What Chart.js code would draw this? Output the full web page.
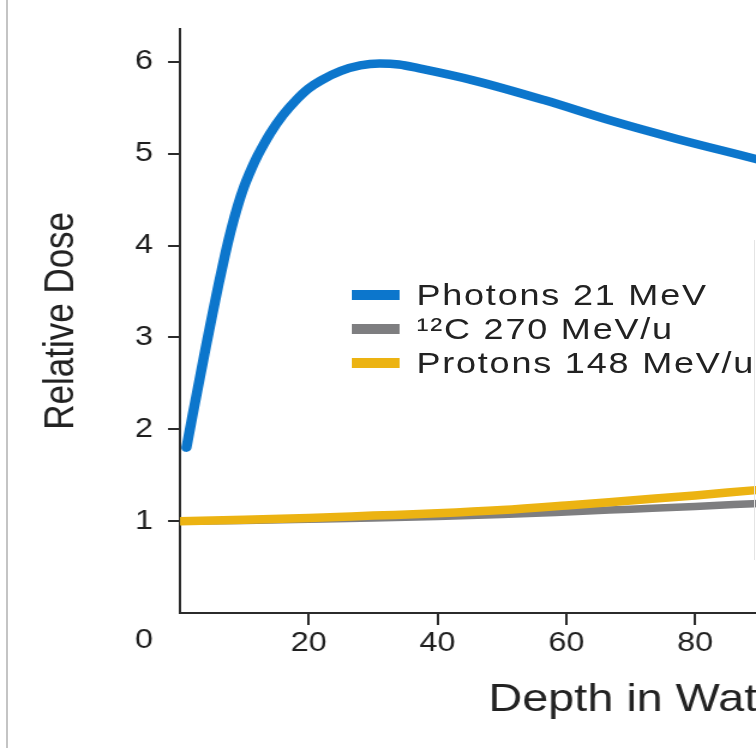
<!DOCTYPE html>
<html>
<head>
<meta charset="utf-8">
<title>Relative Dose vs Depth in Water</title>
<script src="https://cdn.jsdelivr.net/npm/chart.js@4.4.1/dist/chart.umd.min.js"></script>
<style>
    html, body { margin: 0; padding: 0; background: #ffffff; overflow: hidden; width: 756px; height: 748px; }
    /* the original figure is stretched sideways, so the whole drawing is too */
    #stretch { position: absolute; left: 0; top: 0; width: 1033px; height: 748px; transform: scaleX(1.2); transform-origin: 0 0; }
    #edgeLeft { position: absolute; left: 6px; top: 0; width: 2px; height: 748px; background: #c4c4c4; }
    #edgeRight { position: absolute; left: 754px; top: 240px; width: 1px; height: 320px; background: #e4e4e4; }
    #legend { position: absolute; left: 293px; top: 278px; font-family: "Liberation Sans", Arial, sans-serif; font-size: 30px; letter-spacing: 1.5px; color: #222222; }
    .row { display: flex; align-items: center; height: 34px; white-space: nowrap; }
    .swatch { width: 40px; height: 10px; margin-right: 14px; }
</style>
</head>
<body>
<div id="edgeLeft"></div>
<div id="stretch">
    <canvas id="doseChart" width="1033" height="748"></canvas>
    <div id="legend"></div>
</div>
<div id="edgeRight"></div>

<script>
// Series (depth in water, relative dose)
const photonDepth = [1, 2, 3, 4, 5, 6, 7, 8, 9, 10, 11, 12, 13, 14, 16, 18, 20, 22, 25, 28, 31, 34, 37, 46, 56.7, 66.9, 77.2, 89, 95];
const photonDose = [1.8, 2.17, 2.53, 2.89, 3.24, 3.58, 3.9, 4.19, 4.44, 4.65, 4.82, 4.97, 5.1, 5.22, 5.42, 5.58, 5.71, 5.8, 5.9, 5.96, 5.98, 5.97, 5.93, 5.79, 5.58, 5.36, 5.16, 4.95, 4.84];

const carbonDepth = [0, 10, 20, 30, 40, 50, 60, 70, 80, 89, 95];
const carbonDose = [1.0, 1.008, 1.02, 1.033, 1.05, 1.072, 1.1, 1.13, 1.16, 1.19, 1.21];

const protonDepth = [0, 10, 20, 30, 40, 50, 60, 70, 80, 89, 95];
const protonDose = [1.0, 1.015, 1.035, 1.06, 1.085, 1.12, 1.17, 1.225, 1.28, 1.335, 1.37];

// Legend entries, in the order shown on the figure
const seriesLabels = ['Photons 21 MeV', '\u00B9\u00B2C 270 MeV/u', 'Protons 148 MeV/u'];
const seriesColors = ['#0c76cc', '#7e7e80', '#ecb312'];

// Tick labels shown on each axis (the shared "0" sits in the corner)
const xTickValues = [20, 40, 60, 80, 100, 120, 140, 160];
const yTickValues = [1, 2, 3, 4, 5, 6];
const originText = '0';

const xTitle = 'Depth in Water (mm)';
const yTitle = 'Relative Dose';

// Check whether a local font is really there by comparing text widths
function hasFont(name)
{
    const c = document.createElement('canvas').getContext('2d');
    c.font = '40px monospace';
    const base = c.measureText('Relative Dose 123').width;
    c.font = `40px "${name}", monospace`;
    return c.measureText('Relative Dose 123').width !== base;
}

const narrow = hasFont('Liberation Sans Narrow');
const yTitleFamily = narrow ? '"Liberation Sans Narrow", "Liberation Sans", sans-serif' : '"Liberation Sans", Arial, sans-serif';
const yTitleSize = narrow ? 42 : 35;
const tickFamily = '"Liberation Sans", Arial, sans-serif';
const tickSize = 27;
const tickColor = '#1f1f1f';

// Draws the single "0" below the y labels, level with the x labels
const originLabel = {
    id: 'originLabel',
    afterDraw(chart)
    {
        const { ctx, scales: { x, y } } = chart;
        ctx.save();
        ctx.font = `${tickSize}px ${tickFamily}`;
        ctx.fillStyle = tickColor;
        ctx.textAlign = 'right';
        ctx.textBaseline = 'top';
        ctx.fillText(originText, y.right - 10 - 12.5, x.top + 12 + 2);
        ctx.restore();
    }
};

// Hide the tick mark at the origin
function tickColorFor(ctx)
{
    return ctx.tick && ctx.tick.value === 0 ? 'rgba(0,0,0,0)' : '#2b2b2b';
}

function makePoints(xs, ys)
{
    return xs.map((v, i) => ({ x: v, y: ys[i] }));
}

const datasets = [
    {
        label: seriesLabels[0],
        data: makePoints(photonDepth, photonDose),
        borderColor: seriesColors[0],
        borderWidth: 8.5,
        order: 1
    },
    {
        label: seriesLabels[1],
        data: makePoints(carbonDepth, carbonDose),
        borderColor: seriesColors[1],
        borderWidth: 7.5,
        order: 3
    },
    {
        label: seriesLabels[2],
        data: makePoints(protonDepth, protonDose),
        borderColor: seriesColors[2],
        borderWidth: 8.5,
        order: 2
    }
].map(d => Object.assign(d, {
    pointRadius: 0,
    fill: false,
    cubicInterpolationMode: 'monotone',
    borderCapStyle: 'round',
    borderJoinStyle: 'round'
}));

const ctx = document.getElementById('doseChart').getContext('2d');

new Chart(ctx,
{
    type: 'line',
    data: { datasets: datasets },
    plugins: [originLabel],
    options:
    {
        responsive: false,
        animation: false,
        layout: { padding: { top: 28, left: 0, right: 5, bottom: 0 } },
        plugins:
        {
            legend: { display: false },
            tooltip: { enabled: false }
        },
        scales:
        {
            x:
            {
                type: 'linear',
                min: 0,
                max: 163,
                afterFit: scale => { scale.height = 135; },
                border: { display: true, color: '#2b2b2b', width: 2 },
                grid: { drawOnChartArea: false, drawTicks: true, tickLength: 12, lineWidth: 2, color: tickColorFor },
                ticks:
                {
                    stepSize: 20,
                    includeBounds: false,
                    maxRotation: 0,
                    padding: 2,
                    color: tickColor,
                    font: { family: tickFamily, size: tickSize },
                    callback: v => xTickValues.includes(v) ? String(v) : ''
                },
                title:
                {
                    display: true,
                    text: xTitle,
                    color: '#222222',
                    font: { family: '"Liberation Sans", Arial, sans-serif', size: 39 },
                    padding: { top: 0, bottom: 24 }
                }
            },
            y:
            {
                min: 0,
                max: 6.36,
                afterFit: scale => { scale.width = 150; },
                border: { display: true, color: '#2b2b2b', width: 2 },
                grid: { drawOnChartArea: false, drawTicks: true, tickLength: 10, lineWidth: 2, color: tickColorFor },
                ticks:
                {
                    stepSize: 1,
                    includeBounds: false,
                    padding: 12.5,
                    color: tickColor,
                    font: { family: tickFamily, size: tickSize },
                    callback: v => yTickValues.includes(v) ? String(v) : ''
                },
                title:
                {
                    display: true,
                    text: yTitle,
                    color: '#222222',
                    font: { family: yTitleFamily, size: yTitleSize },
                    padding: { top: 51.7 - 0.6 * yTitleSize, bottom: 0 }
                }
            }
        }
    }
});

// Build the legend that sits inside the plot, from the same label and colour lists
const legendBox = document.getElementById('legend');
seriesLabels.forEach((label, i) =>
{
    const row = document.createElement('div');
    row.className = 'row';
    const swatch = document.createElement('span');
    swatch.className = 'swatch';
    swatch.style.background = seriesColors[i];
    const text = document.createElement('span');
    text.textContent = label;
    row.appendChild(swatch);
    row.appendChild(text);
    legendBox.appendChild(row);
});
</script>
</body>
</html>
